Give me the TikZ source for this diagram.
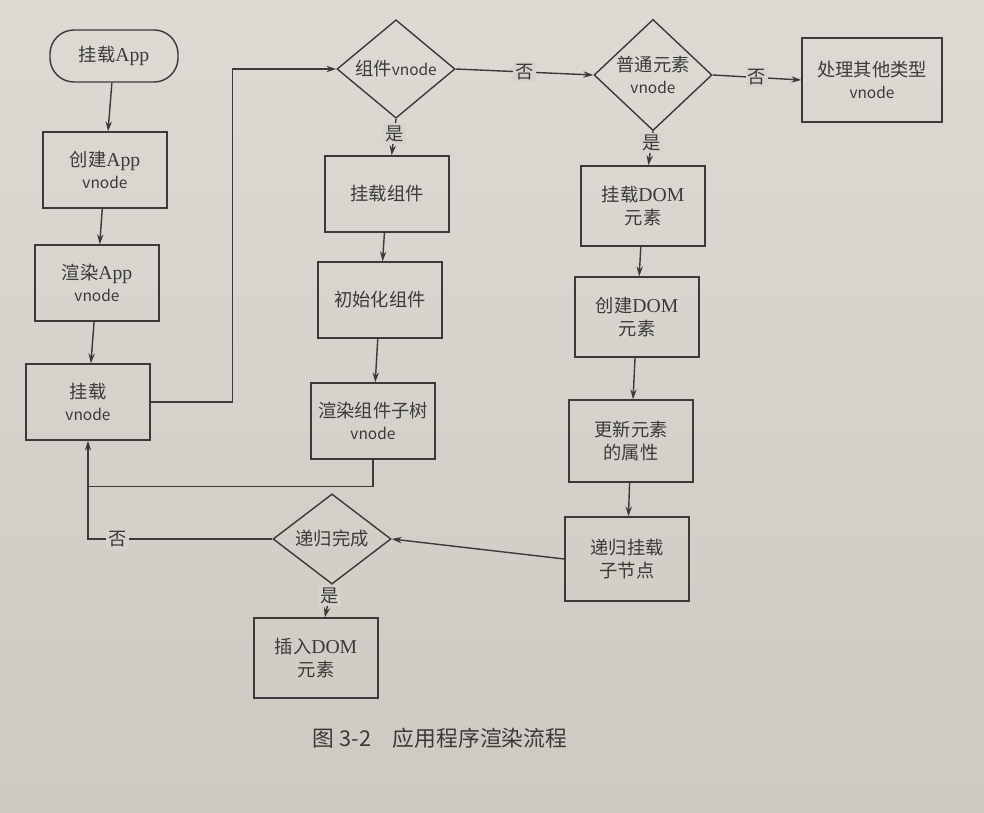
\documentclass[tikz,border=0pt]{standalone}
\usepackage{fontspec}
\setmainfont{Noto Sans CJK SC}
\newfontfamily\romfont{Liberation Serif}
\usetikzlibrary{shapes.geometric,arrows.meta}
\definecolor{papertop}{RGB}{221,218,212}
\definecolor{paperbot}{RGB}{206,202,194}
\definecolor{paper}{RGB}{214,211,204}
\definecolor{ink}{RGB}{58,58,58}
\newcommand{\vn}{{\fontsize{11}{14}\selectfont vnode}}
\newcommand{\rom}[1]{{\romfont\fontsize{14}{16}\selectfont #1}}

\begin{document}
\begin{tikzpicture}[x=0.025cm,y=-0.025cm,>={Stealth[length=7pt,width=4.5pt]},
  every node/.style={text=ink,font=\fontsize{13}{16}\selectfont},
  box/.style={draw=ink,line width=1pt,minimum width=3.1cm,minimum height=1.9cm,align=center},
  start/.style={box,rounded corners=0.6cm,minimum height=1.3cm,minimum width=3.2cm},
  choice/.style={diamond,draw=ink,line width=1pt,inner sep=0pt,minimum width=2.95cm,minimum height=2.05cm,align=center},
  line/.style={draw=ink,line width=1pt},
  lbl/.style={fill=paper,inner sep=1.5pt}]

% Page
\shade[top color=papertop,bottom color=paperbot] (0,0) rectangle (984,813);
\useasboundingbox (0,0) rectangle (984,813);

% Left column
\node[start] (app) at (114,56) {挂载\rom{App}};
\node[box] (mkapp) at (105,170) {创建\rom{App}\\\vn};
\node[box] (rdapp) at (97,283) {渲染\rom{App}\\\vn};
\node[box] (mnt) at (88,402) {挂载\\\vn};

% Component branch
\node[choice] (comp) at (396,69) {组件\vn};
\node[box] (mcomp) at (387,194) {挂载组件};
\node[box] (icomp) at (380,300) {初始化组件};
\node[box] (sub) at (373,421) {渲染组件子树\\\vn};

% Element branch
\node[choice] (elem) at (653,75) {普通元素\\\vn};
\node[box,minimum width=3.5cm,minimum height=2.1cm] (other) at (872,80) {处理其他类型\\\vn};
\node[box,minimum height=2cm] (mdom) at (643,206) {挂载\rom{DOM}\\元素};
\node[box,minimum height=2cm] (cdom) at (637,317) {创建\rom{DOM}\\元素};
\node[box,minimum height=2.05cm] (attr) at (631,441) {更新元素\\的属性};
\node[box,minimum height=2.1cm] (kids) at (627,559) {递归挂载\\子节点};

% Recursion check
\node[choice,minimum height=1.95cm] (done) at (332,539) {递归完成};
\node[box,minimum height=2cm] (ins) at (316,658) {插入\rom{DOM}\\元素};

% Arrows
\draw[line,->] (app) -- (mkapp);
\draw[line,->] (mkapp) -- (rdapp);
\draw[line,->] (rdapp) -- (mnt);
\draw[line,->] (mnt.east) -- ++(82,0) |- (comp.west);
\draw[line,->] (comp.south) -- node[lbl,pos=0.4]{是} (mcomp);
\draw[line,->] (mcomp) -- (icomp);
\draw[line,->] (icomp) -- (sub);
\draw[line,->] (sub.south) -- ++(0,27) coordinate (bk) -| (mnt.south);
\draw[line,->] (comp.east) -- node[lbl]{否} (elem.west);
\draw[line,->] (elem.east) -- node[lbl]{否} (other.west);
\draw[line,->] (elem.south) -- node[lbl,pos=0.35]{是} (mdom);
\draw[line,->] (mdom) -- (cdom);
\draw[line,->] (cdom) -- (attr);
\draw[line,->] (attr) -- (kids);
\draw[line,->] (kids.west) -- (done.east);
\draw[line] (done.west) -- node[lbl,pos=0.84]{否} (done.west -| mnt.south) -- (bk -| mnt.south);
\draw[line,->] (done.south) -- node[lbl,pos=0.33]{是} (ins);

% Caption
\node[font=\fontsize{15.5}{18}\selectfont] (cap) at (440,738) {图 3-2\quad 应用程序渲染流程};

\end{tikzpicture}
\end{document}
